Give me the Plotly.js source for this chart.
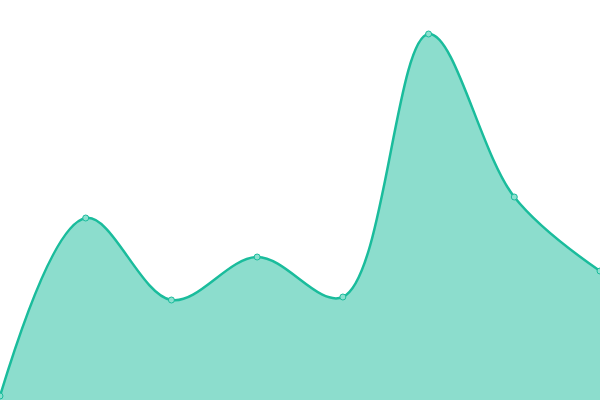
<!DOCTYPE html>
<html>
<head>
<script src="https://cdn.plot.ly/plotly-3.0.1.min.js"></script>
<style>html,body{margin:0;padding:0;background:#fff}#chart{width:600px;height:400px}</style>
</head>
<body>
<div id="chart"></div>
<script>
// data points, evenly spaced
const xs = [0, 1, 2, 3, 4, 5, 6, 7];
const values = [1, 45.5, 25, 35.75, 25.75, 91.5, 50.75, 32.25];

const trace = {
  x: xs,
  y: values,
  type: 'scatter',
  mode: 'lines+markers',
  fill: 'tozeroy',
  fillcolor: 'rgba(26,188,156,0.5)',
  line: {color: '#1abc9c', width: 2.5, shape: 'spline', smoothing: 1},
  marker: {size: 6, color: '#8ce0cf', line: {color: '#1abc9c', width: 1}},
  cliponaxis: false,
  hoverinfo: 'none'
};

const layout = {
  width: 600,
  height: 400,
  margin: {l: 0, r: 0, t: 0, b: 0},
  paper_bgcolor: '#fff',
  plot_bgcolor: '#fff',
  showlegend: false,
  xaxis: {range: [0, 7], visible: false, fixedrange: true},
  yaxis: {range: [0, 100], visible: false, fixedrange: true}
};

Plotly.newPlot('chart', [trace], layout, {displayModeBar: false, staticPlot: true});
</script>
</body>
</html>
